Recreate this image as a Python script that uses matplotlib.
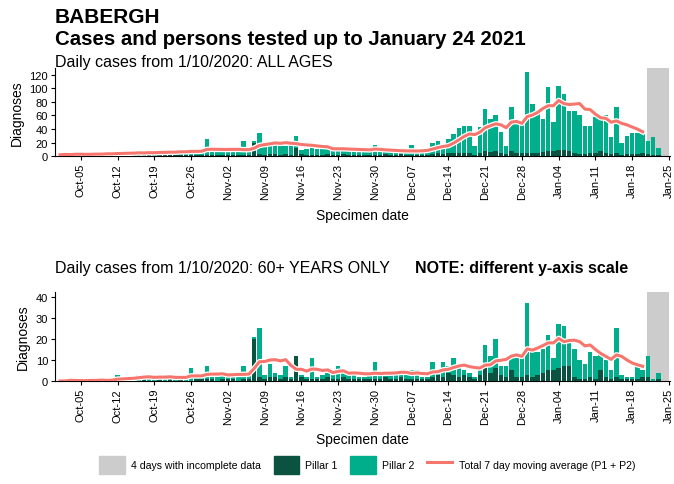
import numpy as np
import pandas as pd
import matplotlib
matplotlib.use("Agg")
import matplotlib.pyplot as plt
import matplotlib.dates as mdates
import matplotlib.patheffects as pe
from matplotlib.patches import Patch
from matplotlib.lines import Line2D

plt.rcParams['font.family'] = ['Liberation Sans', 'DejaVu Sans']

# ---- data, one row per week starting Oct 1 ----
dates = pd.date_range("2020-10-01", "2021-01-24", freq="D")

all_total = [
    2, 3, 2, 4, 3, 2, 3,
    4, 3, 5, 4, 6, 3, 5,
    5, 6, 4, 7, 5, 6, 6,
    7, 6, 8, 7, 9, 6, 8,
    25, 8, 7, 6, 9, 7, 8,
    22, 8, 22, 34, 18, 15, 17,
    18, 15, 16, 30, 9, 10, 14,
    11, 10, 12, 10, 9, 10, 11,
    9, 8, 10, 8, 17, 7, 6,
    6, 5, 7, 6, 17, 6, 8,
    10, 19, 22, 18, 25, 33, 41,
    45, 45, 15, 43, 70, 55, 60,
    35, 15, 73, 50, 50, 124, 77,
    62, 55, 102, 50, 104, 92, 67,
    67, 60, 45, 45, 57, 55, 60,
    28, 73, 20, 30, 34, 34, 32,
    23, 28, 12, 0,
]
all_pillar1 = [
    0, 1, 0, 0, 1, 0, 0,
    0, 1, 0, 1, 0, 1, 1,
    1, 0, 1, 1, 0, 1, 1,
    1, 1, 1, 1, 1, 1, 1,
    2, 1, 1, 1, 2, 1, 1,
    2, 2, 20, 3, 2, 3, 3,
    2, 3, 2, 12, 3, 2, 2,
    2, 2, 3, 2, 2, 3, 2,
    2, 2, 2, 2, 2, 2, 3,
    2, 2, 3, 2, 2, 2, 2,
    2, 3, 4, 3, 5, 4, 4,
    5, 4, 2, 4, 8, 6, 8,
    5, 3, 7, 4, 4, 5, 4,
    5, 6, 7, 7, 9, 9, 8,
    4, 3, 3, 4, 4, 8, 4,
    3, 4, 2, 3, 3, 3, 4,
    3, 2, 1, 0,
]
old_total = [
    0, 0, 1, 0, 0, 0, 1,
    0, 1, 0, 1, 3, 1, 2,
    1, 3, 2, 2, 1, 2, 2,
    2, 1, 2, 2, 6, 2, 2,
    7, 2, 2, 3, 2, 3, 3,
    7, 3, 21, 25, 3, 8, 4,
    3, 7, 2, 12, 3, 2, 11,
    2, 3, 4, 3, 7, 4, 3,
    3, 2, 2, 3, 9, 3, 4,
    3, 3, 4, 3, 5, 5, 2,
    2, 9, 5, 9, 7, 11, 7,
    5, 4, 2, 7, 17, 12, 20,
    7, 7, 13, 11, 12, 37, 16,
    14, 15, 22, 11, 27, 26, 20,
    15, 10, 8, 14, 12, 13, 10,
    5, 25, 3, 2, 2, 7, 5,
    12, 1, 4, 0,
]
old_pillar1 = [
    0, 0, 0, 0, 0, 0, 0,
    0, 0, 0, 0, 0, 0, 1,
    0, 0, 1, 0, 0, 1, 0,
    1, 0, 1, 0, 0, 1, 1,
    1, 1, 0, 1, 1, 1, 0,
    1, 1, 20, 2, 1, 2, 2,
    1, 2, 1, 12, 2, 1, 1,
    1, 1, 2, 1, 1, 2, 1,
    1, 1, 1, 1, 1, 1, 2,
    1, 1, 2, 1, 1, 1, 1,
    1, 2, 3, 2, 4, 3, 2,
    3, 2, 1, 3, 6, 4, 6,
    3, 2, 5, 2, 2, 3, 2,
    3, 4, 5, 5, 6, 7, 7,
    2, 1, 1, 2, 1, 5, 2,
    1, 2, 1, 1, 1, 1, 2,
    2, 0, 1, 0,
]

incomplete_start = pd.Timestamp("2021-01-21")
tick_dates = pd.date_range("2020-10-05", "2021-01-25", freq="7D")

C_P1 = "#0b5240"
C_P2 = "#00ae8b"
C_AVG = "#f6766d"
C_GREY = "#cccccc"


def draw_panel(ax, total, pillar1, ymax, yticks):
    total = np.array(total, dtype=float)
    p1 = np.array(pillar1, dtype=float)
    p2 = total - p1
    x = mdates.date2num(dates)

    ax.axvspan(mdates.date2num(incomplete_start) - 0.1,
               mdates.date2num(incomplete_start) + 4, color=C_GREY, lw=0, zorder=0)
    ax.bar(x, p1, width=0.85, color=C_P1, lw=0, zorder=2)
    ax.bar(x, p2, width=0.85, bottom=p1, color=C_P2, lw=0, zorder=2)

    # trailing 7 day average, only over the complete days
    avg = pd.Series(total, index=dates).rolling(7, min_periods=1).mean()
    avg = avg[avg.index < incomplete_start]
    ax.plot(mdates.date2num(avg.index), avg.values, color=C_AVG, lw=2.2, zorder=3,
            path_effects=[pe.Stroke(linewidth=4, foreground="white"), pe.Normal()])

    ax.set_xlim(mdates.date2num(dates[0]) - 0.95, mdates.date2num(pd.Timestamp("2021-01-25")) + 0.2)
    ax.set_ylim(0, ymax)
    ax.set_yticks(yticks)
    ax.set_xticks(mdates.date2num(tick_dates))
    ax.set_xticklabels([d.strftime("%b-%d") for d in tick_dates], rotation=90, fontsize=8)
    ax.tick_params(axis="y", labelsize=8, length=3, pad=2)
    ax.tick_params(axis="x", length=3, pad=2)
    for s in ["top", "right"]:
        ax.spines[s].set_visible(False)
    ax.spines["left"].set_linewidth(0.8)
    ax.spines["bottom"].set_linewidth(0.8)
    ax.set_ylabel("Diagnoses", fontsize=10, labelpad=4)
    ax.set_xlabel("Specimen date", fontsize=10, labelpad=6)


fig = plt.figure(figsize=(6.74, 4.85), dpi=100)
ax1 = fig.add_axes([0.0816, 0.676, 0.9124, 0.182])
ax2 = fig.add_axes([0.0816, 0.2124, 0.9124, 0.1836])

draw_panel(ax1, all_total, all_pillar1, 130, range(0, 121, 20))
draw_panel(ax2, old_total, old_pillar1, 42.4, range(0, 41, 10))

fig.text(0.0816, 0.963, "BABERGH", fontsize=15, fontweight="bold", va="center")
fig.text(0.0816, 0.918, "Cases and persons tested up to January 24 2021", fontsize=14.7,
         fontweight="bold", va="center")
fig.text(0.0816, 0.872, "Daily cases from 1/10/2020: ALL AGES", fontsize=11.5, va="center")
fig.text(0.0816, 0.447, "Daily cases from 1/10/2020: 60+ YEARS ONLY", fontsize=11.5, va="center")
fig.text(0.616, 0.447, "NOTE: different y-axis scale", fontsize=11.5, fontweight="bold", va="center")

handles = [
    Patch(color=C_GREY),
    Patch(color=C_P1),
    Patch(color=C_P2),
    Line2D([0], [0], color=C_AVG, lw=2.2),
]
labels = ["4 days with incomplete data", "Pillar 1", "Pillar 2",
          "Total 7 day moving average (P1 + P2)"]
fig.legend(handles, labels, loc="center", bbox_to_anchor=(0.545, 0.039), ncol=4,
           frameon=False, fontsize=7.6, handlelength=2.4, handleheight=2.3,
           handletextpad=0.6, columnspacing=1.2)

fig.savefig("out.png", dpi=100)
